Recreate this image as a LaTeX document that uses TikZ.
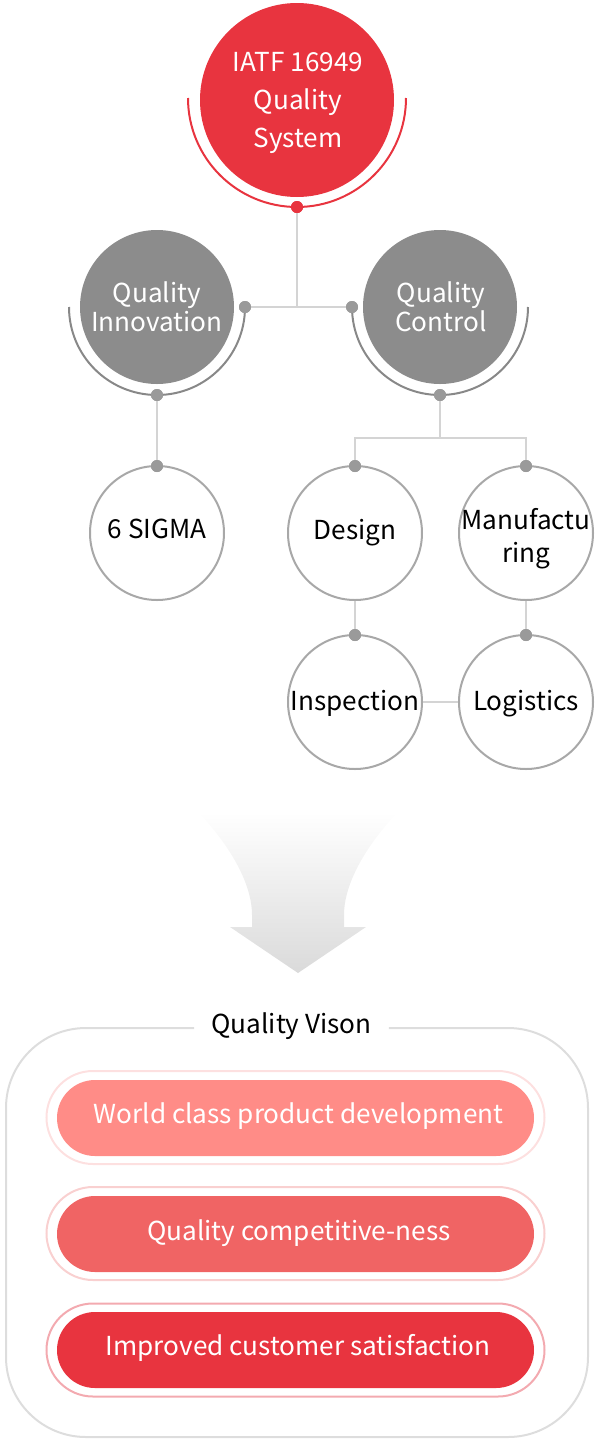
\documentclass[tikz,border=0pt]{standalone}
\usepackage{fontspec}
\setmainfont{Noto Sans CJK KR}
\usetikzlibrary{shapes.misc}
\definecolor{qred}{HTML}{E8343F}
\definecolor{qgray}{HTML}{8C8C8C}
\definecolor{arcgray}{HTML}{888888}
\definecolor{dotgray}{HTML}{9A9A9A}
\definecolor{linegray}{HTML}{D4D4D4}
\definecolor{ringgray}{HTML}{A8A8A8}
\definecolor{boxgray}{HTML}{DDDDDD}
\definecolor{pillA}{HTML}{FF8C87}
\definecolor{pillB}{HTML}{F06464}
\definecolor{pillC}{HTML}{E8343F}
\definecolor{rimA}{HTML}{FDE0E0}
\definecolor{rimB}{HTML}{F9D0D0}
\definecolor{rimC}{HTML}{F3AAB0}
\definecolor{arrowbot}{HTML}{DADADA}
\definecolor{arrowmid}{HTML}{E6E6E6}
\newcommand\tlines[2]{{\fontsize{19.6}{#1}\selectfont\def\arraystretch{1}\begin{tabular}[t]{@{}c@{}}#2\end{tabular}}}
\begin{document}
\begin{tikzpicture}[x=0.75pt,y=-0.75pt,
  bigred/.style={circle,fill=qred,minimum size=194*0.75pt,inner sep=0pt},
  midgray/.style={circle,fill=qgray,minimum size=154*0.75pt,inner sep=0pt},
  leaf/.style={circle,draw=ringgray,line width=1.5pt,fill=white,minimum size=134*0.75pt,inner sep=0pt},
  lbl/.style={anchor=base,inner sep=0pt,font=\fontsize{19.6}{24}\selectfont},
  wlbl/.style={lbl,text=white},
  reddot/.style={circle,fill=qred,minimum size=12*0.75pt,inner sep=0pt},
  graydot/.style={circle,fill=dotgray,minimum size=12*0.75pt,inner sep=0pt},
  conn/.style={draw=linegray,line width=1.5pt},
  redarc/.style={draw=qred,line width=1.5pt},
  grayarc/.style={draw=arcgray,line width=1.5pt},
  pill/.style={rounded rectangle,minimum width=477*0.75pt,minimum height=76*0.75pt,inner sep=0pt},
  rim/.style={rounded rectangle,minimum width=498*0.75pt,minimum height=93*0.75pt,inner sep=0pt,line width=1.5pt},
]
\useasboundingbox (0,0) rectangle (594,1439);

% top red circle
\draw[redarc] (188,98) arc[start angle=180,end angle=360,radius=109*0.75pt];
\node[bigred] (iatf) at (297,100) {};
\node[wlbl] (iatft) at (298,71.5) {\tlines{28.5pt}{IATF 16949\\Quality\\System}};

% gray circles and arcs
\draw[grayarc] (69,307) arc[start angle=180,end angle=360,radius=88*0.75pt];
\draw[grayarc] (352,307) arc[start angle=180,end angle=360,radius=88*0.75pt];
\node[midgray] (qi) at (157,307) {};
\node[midgray] (qc) at (440,307) {};
\node[wlbl] (qit) at (157,302.3) {\tlines{22.1pt}{Quality\\Innovation}};
\node[wlbl] (qct) at (441,302.3) {\tlines{22.1pt}{Quality\\Control}};

% dots on arcs
\node[reddot] (dred) at (297,207) {};
\node[graydot] (dqir) at (245,307) {};
\node[graydot] (dqcl) at (352,307) {};
\node[graydot] (dqib) at (157,395) {};
\node[graydot] (dqcb) at (440,395) {};

% leaf circles
\node[leaf] (sigma) at (157,533) {};
\node[leaf] (design) at (355,533) {};
\node[leaf] (manu) at (526,533) {};
\node[leaf] (insp) at (355,702) {};
\node[leaf] (logi) at (526,702) {};
\node[lbl] (sigmat) at (157,538.5) {6 SIGMA};
\node[lbl] (designt) at (355,539.5) {Design};
\node[lbl] (manut) at (526,529.3) {\tlines{25pt}{Manufactu\\ring}};
\node[lbl] (inspt) at (355,710) {Inspection};
\node[lbl] (logit) at (526,710) {Logistics};

\node[graydot] (dsig) at (157,466) {};
\node[graydot] (ddes) at (355,466) {};
\node[graydot] (dman) at (526,466) {};
\node[graydot] (dins) at (355,635) {};
\node[graydot] (dlog) at (526,635) {};

% connectors
\coordinate (jqc) at (440,438);
\path[conn] (dred) -- (dred |- dqir);
\path[conn] (dqir) -- (dqcl);
\path[conn] (dqib) -- (dsig);
\path[conn] (dqcb) -- (jqc);
\path[conn] (ddes) -- (ddes |- jqc) -- (dman |- jqc) -- (dman);
\path[conn] (design.south) -- (dins);
\path[conn] (manu.south) -- (dlog);
\path[conn] (insp.east) -- (logi.west);
% dots over lines
\foreach \p in {(245,307),(352,307),(157,395),(440,395),(157,466),(355,466),(526,466),(355,635),(526,635)}{
  \fill[dotgray] \p circle[radius=6*0.75pt];
}
\fill[qred] (297,207) circle[radius=6*0.75pt];

% arrow
\shade[top color=white,middle color=arrowmid,bottom color=arrowbot]
  (198,812) .. controls (225,840) and (252,880) .. (252,915) -- (252,927) -- (230,927) -- (298,973)
  -- (366,927) -- (344,927) -- (344,915) .. controls (344,880) and (371,840) .. (398,812) -- cycle;

% vision box
\node[lbl,inner xsep=12.75pt] (vision) at (291.5,1033.3) {Quality Vison};
\coordinate (btr) at (588,1028);
\coordinate (btl) at (6,1028);
\draw[draw=boxgray,line width=1.5pt,rounded corners=60pt]
  (vision.east |- btr) -- (btr) -- (588,1437) -- (6,1437) -- (btl) -- (vision.west |- btl);

\node[rim,draw=rimA] (r1) at (295.5,1117.5) {};
\node[pill,fill=pillA] (p1) at (295.5,1118) {};
\node[wlbl] (p1t) at (298.5,1123.3) {World class product development};
\node[rim,draw=rimB] (r2) at (295.5,1233.5) {};
\node[pill,fill=pillB] (p2) at (295.5,1234) {};
\node[wlbl] (p2t) at (299,1240) {Quality competitive-ness};
\node[rim,draw=rimC] (r3) at (295.5,1350) {};
\node[pill,fill=pillC] (p3) at (295.5,1350) {};
\node[wlbl] (p3t) at (298.3,1355.7) {Improved customer satisfaction};
\end{tikzpicture}
\end{document}
